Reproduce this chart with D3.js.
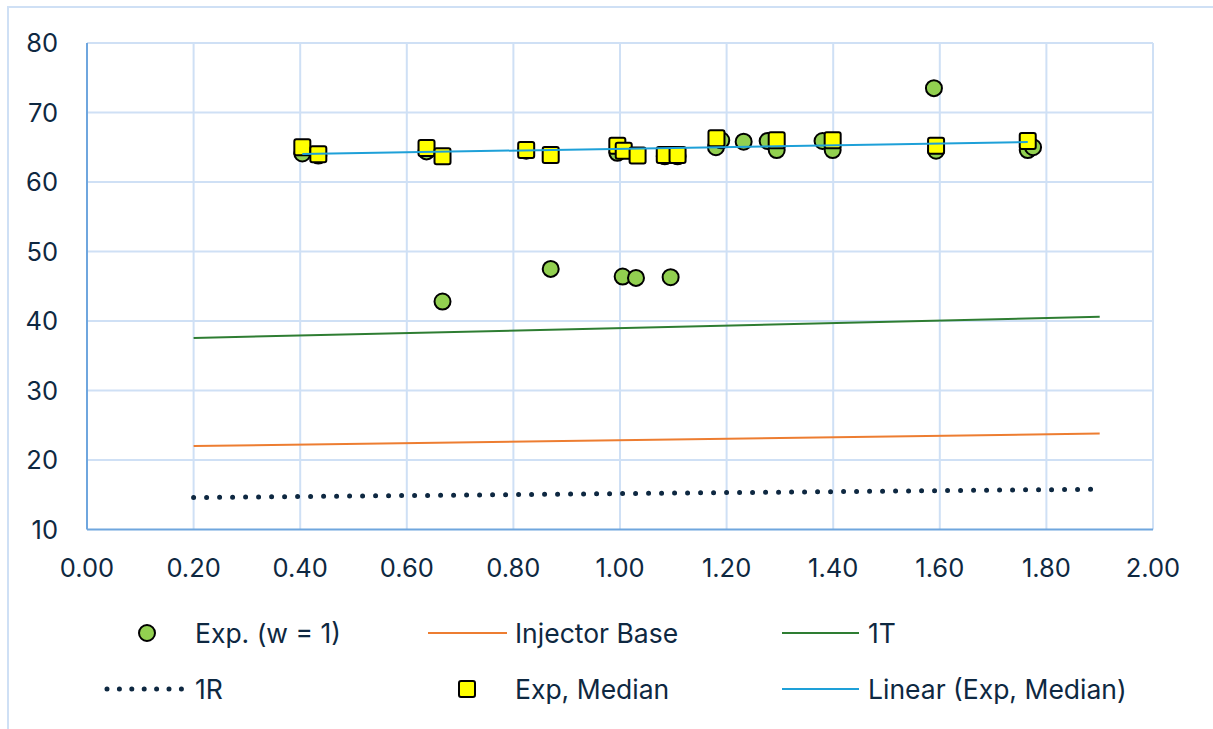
<!DOCTYPE html>
<html>
<head>
<meta charset="utf-8">
<script src="https://cdn.jsdelivr.net/npm/d3@7"></script>
<style>
  html, body { margin: 0; padding: 0; background: #fff; }
  svg { display: block; }
  text { font-family: Inter, "Open Sans", sans-serif; fill: #0e2841; }
</style>
</head>
<body>
<svg id="chart" width="1213" height="729"></svg>
<script>
// Experimental points, weight 1
const expX = [0.404, 0.434, 0.637, 0.667, 0.824, 0.870, 0.995, 1.005, 1.030, 1.084, 1.095, 1.108,
              1.180, 1.190, 1.232, 1.277, 1.294, 1.380, 1.399, 1.589, 1.593, 1.765, 1.775];
const expY = [64.1, 63.8, 64.4, 42.8, 64.5, 47.5, 64.2, 46.4, 46.2, 63.7, 46.3, 63.7,
              65.0, 66.0, 65.8, 65.9, 64.6, 65.9, 64.6, 73.5, 64.5, 64.6, 65.0];

// Experimental medians
const medX = [0.404, 0.434, 0.637, 0.667, 0.824, 0.870, 0.995, 1.007, 1.033, 1.084, 1.108,
              1.181, 1.294, 1.399, 1.593, 1.765];
const medY = [65.0, 64.0, 64.9, 63.7, 64.6, 63.9, 65.2, 64.5, 63.8, 63.9, 63.9,
              66.3, 66.0, 66.0, 65.2, 65.9];

// Model lines
const modelX = [0.20, 1.90];
const injectorBase = [22.0, 23.8];
const model1T = [37.55, 40.6];
const model1R = [14.6, 15.8];

// Axis ticks
const xTicks = [0.0, 0.2, 0.4, 0.6, 0.8, 1.0, 1.2, 1.4, 1.6, 1.8, 2.0];
const yTicks = [10, 20, 30, 40, 50, 60, 70, 80];

const svg = d3.select("#chart");
const plot = { left: 87, right: 1153, top: 43, bottom: 529.5 };

const x = d3.scaleLinear().domain([0, 2]).range([plot.left, plot.right]);
const y = d3.scaleLinear().domain([10, 80]).range([plot.bottom, plot.top]);

// Outer chart border (top and left edges in view)
svg.append("rect")
  .attr("x", 8).attr("y", 7).attr("width", 1300).attr("height", 800)
  .attr("fill", "none").attr("stroke", "#cfe0f5").attr("stroke-width", 2);

// Gridlines
const grid = svg.append("g");
grid.selectAll("line.v").data(xTicks.slice(1)).join("line")
  .attr("x1", d => x(d)).attr("x2", d => x(d))
  .attr("y1", plot.top).attr("y2", plot.bottom)
  .attr("stroke", "#cfe0f5").attr("stroke-width", 2);
grid.selectAll("line.h").data(yTicks.slice(1)).join("line")
  .attr("x1", plot.left).attr("x2", plot.right)
  .attr("y1", d => y(d)).attr("y2", d => y(d))
  .attr("stroke", "#cfe0f5").attr("stroke-width", 2);

// Axes lines
svg.append("line")
  .attr("x1", plot.left).attr("x2", plot.left)
  .attr("y1", plot.top).attr("y2", plot.bottom)
  .attr("stroke", "#6fa6de").attr("stroke-width", 2);
svg.append("line")
  .attr("x1", plot.left).attr("x2", plot.right)
  .attr("y1", plot.bottom).attr("y2", plot.bottom)
  .attr("stroke", "#6fa6de").attr("stroke-width", 2);

// Tick labels
svg.append("g").selectAll("text").data(yTicks).join("text")
  .attr("x", 58).attr("y", d => y(d)).attr("dy", "0.36em")
  .attr("text-anchor", "end").attr("font-size", 25.5)
  .text(d => d3.format("d")(d));
svg.append("g").selectAll("text").data(xTicks).join("text")
  .attr("x", d => x(d)).attr("y", 577)
  .attr("text-anchor", "middle").attr("font-size", 25.5)
  .text(d => d3.format(".2f")(d));

// Experimental points
svg.append("g").selectAll("circle").data(d3.zip(expX, expY)).join("circle")
  .attr("cx", d => x(d[0])).attr("cy", d => y(d[1])).attr("r", 8)
  .attr("fill", "#92d050").attr("stroke", "#000").attr("stroke-width", 2);

// Model lines
const line = d3.line().x(d => x(d[0])).y(d => y(d[1]));
svg.append("path").datum(d3.zip(modelX, injectorBase)).attr("d", line)
  .attr("fill", "none").attr("stroke", "#ed7d31").attr("stroke-width", 2);
svg.append("path").datum(d3.zip(modelX, model1T)).attr("d", line)
  .attr("fill", "none").attr("stroke", "#2e7d32").attr("stroke-width", 2);
svg.append("path").datum(d3.zip(modelX, model1R)).attr("d", line)
  .attr("fill", "none").attr("stroke", "#0e2841").attr("stroke-width", 5)
  .attr("stroke-linecap", "round").attr("stroke-dasharray", "0 13");

// Median points
svg.append("g").selectAll("rect").data(d3.zip(medX, medY)).join("rect")
  .attr("x", d => x(d[0]) - 8).attr("y", d => y(d[1]) - 8)
  .attr("width", 16).attr("height", 16).attr("rx", 2)
  .attr("fill", "#ffff00").attr("stroke", "#000").attr("stroke-width", 2);

// Least-squares trend through the medians
const mx = d3.mean(medX), my = d3.mean(medY);
const slope = d3.sum(medX, (v, i) => (v - mx) * (medY[i] - my)) / d3.sum(medX, v => (v - mx) ** 2);
const x0 = d3.min(medX), x1 = d3.max(medX);
svg.append("path")
  .datum([[x0, my + slope * (x0 - mx)], [x1, my + slope * (x1 - mx)]])
  .attr("d", line)
  .attr("fill", "none").attr("stroke", "#1ea0d8").attr("stroke-width", 2);

// Legend
const legend = svg.append("g").attr("font-size", 26.5);
const rows = [633, 689];
const cols = [{ mark: 147, text: 195 }, { mark: 467, text: 515 }, { mark: 820, text: 868 }];
function legendText(col, row, label) {
  legend.append("text").attr("x", cols[col].text).attr("y", rows[row]).attr("dy", "0.36em").text(label);
}
legend.append("circle").attr("cx", cols[0].mark).attr("cy", rows[0]).attr("r", 8)
  .attr("fill", "#92d050").attr("stroke", "#000").attr("stroke-width", 2);
legendText(0, 0, "Exp. (w = 1)");
legend.append("line").attr("x1", 428).attr("x2", 507).attr("y1", rows[0]).attr("y2", rows[0])
  .attr("stroke", "#ed7d31").attr("stroke-width", 2);
legendText(1, 0, "Injector Base");
legend.append("line").attr("x1", 782).attr("x2", 859).attr("y1", rows[0]).attr("y2", rows[0])
  .attr("stroke", "#2e7d32").attr("stroke-width", 2);
legendText(2, 0, "1T");
legend.append("line").attr("x1", 107).attr("x2", 182).attr("y1", rows[1]).attr("y2", rows[1])
  .attr("stroke", "#0e2841").attr("stroke-width", 5)
  .attr("stroke-linecap", "round").attr("stroke-dasharray", "0 12.4");
legendText(0, 1, "1R");
legend.append("rect").attr("x", cols[1].mark - 8).attr("y", rows[1] - 8)
  .attr("width", 16).attr("height", 16).attr("rx", 2)
  .attr("fill", "#ffff00").attr("stroke", "#000").attr("stroke-width", 2);
legendText(1, 1, "Exp, Median");
legend.append("line").attr("x1", 782).attr("x2", 859).attr("y1", rows[1]).attr("y2", rows[1])
  .attr("stroke", "#1ea0d8").attr("stroke-width", 2);
legendText(2, 1, "Linear (Exp, Median)");
</script>
</body>
</html>
